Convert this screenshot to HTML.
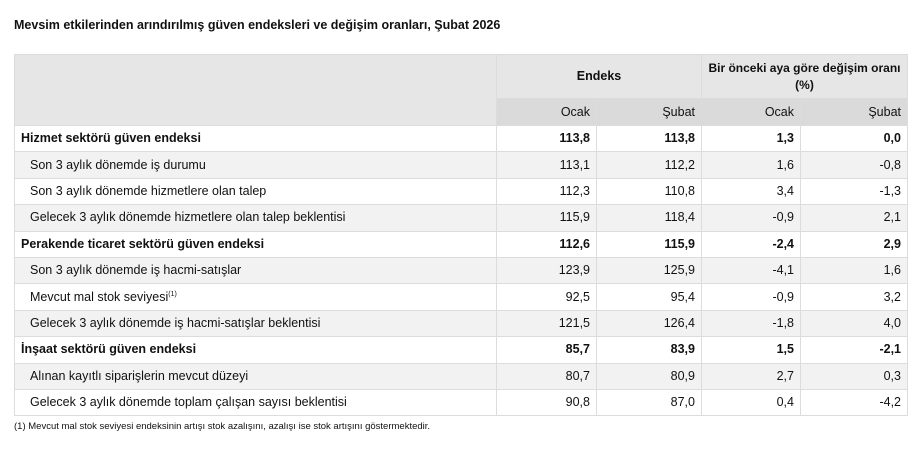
<!DOCTYPE html>
<html><head><meta charset="utf-8"><style>
body{margin:0;background:#fff;font-family:"Liberation Sans",Arial,sans-serif;color:#111;width:919px;height:451px;overflow:hidden}
h1{position:absolute;left:14px;top:18px;margin:0;font-size:12.5px;font-weight:bold}
table{position:absolute;left:14px;top:54px;border-collapse:collapse;font-size:12.5px;table-layout:fixed}
td,th{border:1px solid #dcdcdc;height:25.4px;padding:0 6px;text-align:right;white-space:nowrap;line-height:15px}
td:first-child{text-align:left}
.h1 th{background:#e6e6e6;height:43px;font-weight:bold;text-align:center}
.h2 th{background:#dadada;font-weight:normal;height:26px}
tr.g td{background:#f2f2f2}
tr.b td{font-weight:bold}
td.s{padding-left:15px}
.fn{position:absolute;left:14px;top:421px;font-size:9.5px}
sup{font-size:7px;line-height:0}
</style></head><body>
<h1>Mevsim etkilerinden arındırılmış güven endeksleri ve değişim oranları, Şubat 2026</h1>
<table>
<colgroup><col style="width:482px"><col style="width:100px"><col style="width:105px"><col style="width:99px"><col style="width:107px"></colgroup>
<tr class="h1"><th rowspan="2" style="background:#e6e6e6"></th><th colspan="2">Endeks</th><th colspan="2" style="line-height:17px;font-size:12px;padding:0 2px">Bir önceki aya göre değişim oranı<br>(%)</th></tr>
<tr class="h2"><th>Ocak</th><th>Şubat</th><th>Ocak</th><th>Şubat</th></tr>
<tr class="b"><td>Hizmet sektörü güven endeksi</td><td>113,8</td><td>113,8</td><td>1,3</td><td>0,0</td></tr>
<tr class="g"><td class="s">Son 3 aylık dönemde iş durumu</td><td>113,1</td><td>112,2</td><td>1,6</td><td>-0,8</td></tr>
<tr><td class="s">Son 3 aylık dönemde hizmetlere olan talep</td><td>112,3</td><td>110,8</td><td>3,4</td><td>-1,3</td></tr>
<tr class="g"><td class="s">Gelecek 3 aylık dönemde hizmetlere olan talep beklentisi</td><td>115,9</td><td>118,4</td><td>-0,9</td><td>2,1</td></tr>
<tr class="b"><td>Perakende ticaret sektörü güven endeksi</td><td>112,6</td><td>115,9</td><td>-2,4</td><td>2,9</td></tr>
<tr class="g"><td class="s">Son 3 aylık dönemde iş hacmi-satışlar</td><td>123,9</td><td>125,9</td><td>-4,1</td><td>1,6</td></tr>
<tr><td class="s">Mevcut mal stok seviyesi<sup>(1)</sup></td><td>92,5</td><td>95,4</td><td>-0,9</td><td>3,2</td></tr>
<tr class="g"><td class="s">Gelecek 3 aylık dönemde iş hacmi-satışlar beklentisi</td><td>121,5</td><td>126,4</td><td>-1,8</td><td>4,0</td></tr>
<tr class="b"><td>İnşaat sektörü güven endeksi</td><td>85,7</td><td>83,9</td><td>1,5</td><td>-2,1</td></tr>
<tr class="g"><td class="s">Alınan kayıtlı siparişlerin mevcut düzeyi</td><td>80,7</td><td>80,9</td><td>2,7</td><td>0,3</td></tr>
<tr><td class="s">Gelecek 3 aylık dönemde toplam çalışan sayısı beklentisi</td><td>90,8</td><td>87,0</td><td>0,4</td><td>-4,2</td></tr>
</table>
<div class="fn">(1) Mevcut mal stok seviyesi endeksinin artışı stok azalışını, azalışı ise stok artışını göstermektedir.</div>
</body></html>
